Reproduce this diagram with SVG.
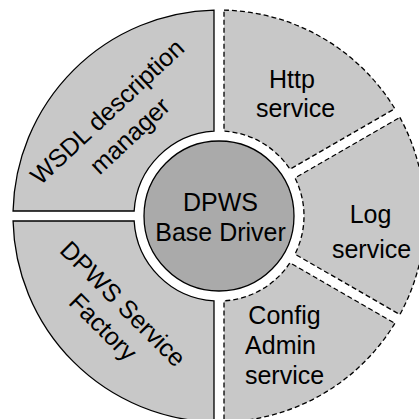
<svg xmlns="http://www.w3.org/2000/svg" width="419" height="419" viewBox="0 0 419 419">
<style>
.seg{fill:#c8c8c8;stroke:#000;stroke-width:1.3}
.dash{stroke-dasharray:5,3}
.core{fill:#aaaaaa;stroke:#000;stroke-width:1.3}
text{font-family:"Liberation Sans",Arial,sans-serif;font-size:25px;fill:#000;text-anchor:middle}
</style>
<rect width="419" height="419" fill="#fff"/>
<g id="wsdl">
<path class="seg" d="M13.06,211 A206,206 0 0 1 214,10.06 L214,131.15 A85,85 0 0 0 134.15,211 Z"/>
<text transform="translate(113,118) rotate(-43)">WSDL description</text>
<text transform="translate(135.5,142) rotate(-43)">manager</text>
</g>
<g id="factory">
<path class="seg" d="M214,421.94 A206,206 0 0 1 13.06,221 L134.15,221 A85,85 0 0 0 214,300.85 Z"/>
<text transform="translate(117,310) rotate(45)">DPWS Service</text>
<text transform="translate(97,333) rotate(45)">Factory</text>
</g>
<g id="http">
<path class="seg dash" d="M224,10.06 A206,206 0 0 1 394.85,108.70 L289.98,169.24 A85,85 0 0 0 224,131.15 Z"/>
<text x="292" y="88">Http</text>
<text x="295.5" y="117">service</text>
</g>
<g id="log">
<path class="seg dash" d="M399.85,117.36 A206,206 0 0 1 399.85,314.64 L294.98,254.10 A85,85 0 0 0 294.98,177.90 Z"/>
<text x="370.5" y="222.5">Log</text>
<text x="371.5" y="258">service</text>
</g>
<g id="config">
<path class="seg dash" d="M394.85,323.30 A206,206 0 0 1 224,421.94 L224,300.85 A85,85 0 0 0 289.98,262.76 Z"/>
<text x="284.5" y="324">Config</text>
<text x="280.5" y="354">Admin</text>
<text x="284.5" y="384">service</text>
</g>
<g id="base-driver">
<circle class="core" cx="219" cy="216" r="75"/>
<text x="220.5" y="211">DPWS</text>
<text x="220.5" y="241">Base Driver</text>
</g>
</svg>
